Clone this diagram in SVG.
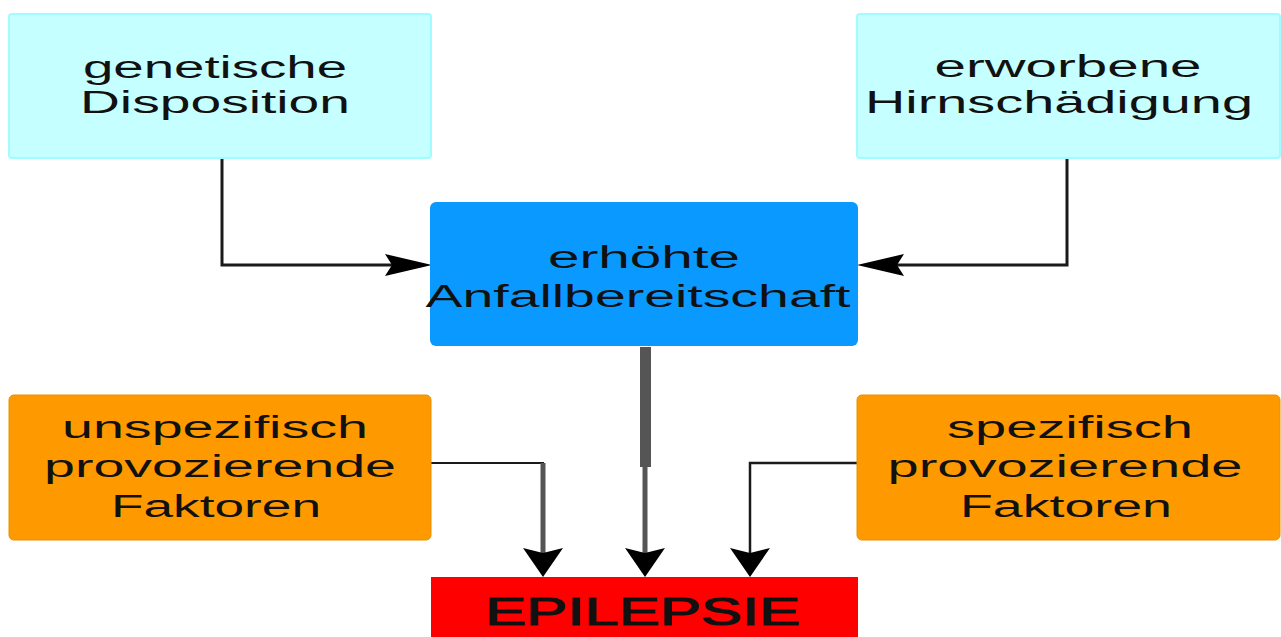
<svg xmlns="http://www.w3.org/2000/svg" width="1281" height="637" viewBox="0 0 1281 637">
<style>
.t{font-family:"Liberation Sans",Arial,sans-serif;font-size:31px;fill:#111;text-anchor:middle}
.cyan{fill:#c6ffff;stroke:#9ffcff;stroke-width:2}
.org{fill:#ff9900;stroke:#e89000;stroke-width:1}
.ln{fill:none;stroke:#1a1a1a;stroke-width:3}
.lg{fill:none;stroke:#555;stroke-width:5}
.ah{fill:#000}
</style>
<rect width="1281" height="637" fill="#fff"/>
<g id="connectors">
<path class="ln" d="M222,158 V265 H392"/>
<path class="ah" d="M432,265 L385,254 L392,265 L385,276 Z"/>
<path class="ln" d="M1067,158 V265 H896"/>
<path class="ah" d="M857,265 L904,254 L897,265 L904,276 Z"/>
<rect x="640" y="347" width="11" height="120" fill="#555"/>
<path class="lg" d="M645,465 V553"/>
<path class="ah" d="M645,577 L625,548 L645,553 L665,548 Z"/>
<path class="ln" d="M431,463 H543 V553" style="stroke-width:2"/>
<path class="lg" d="M543,463 V553"/>
<path class="ah" d="M543,577 L523,548 L543,553 L563,548 Z"/>
<path class="ln" d="M857,463 H750 V553" style="stroke-width:2.5"/>
<path class="ah" d="M750,577 L730,548 L750,553 L770,548 Z"/>
</g>
<g id="n-genetisch">
<rect class="cyan" x="9" y="14" width="422" height="144" rx="3"/>
<text class="t"><tspan x="215" y="78" textLength="264" lengthAdjust="spacingAndGlyphs">genetische</tspan><tspan x="215" y="113" textLength="270" lengthAdjust="spacingAndGlyphs">Disposition</tspan></text>
</g>
<g id="n-erworben">
<rect class="cyan" x="857" y="14" width="423" height="144" rx="3"/>
<text class="t"><tspan x="1068" y="77" textLength="267" lengthAdjust="spacingAndGlyphs">erworbene</tspan><tspan x="1059" y="113" textLength="388" lengthAdjust="spacingAndGlyphs">Hirnschädigung</tspan></text>
</g>
<g id="n-anfall">
<rect x="430" y="202" width="428" height="144" rx="6" fill="#0a99ff"/>
<text class="t"><tspan x="644" y="268" textLength="192" lengthAdjust="spacingAndGlyphs">erhöhte</tspan><tspan x="638" y="307" textLength="425" lengthAdjust="spacingAndGlyphs">Anfallbereitschaft</tspan></text>
</g>
<g id="n-unspez">
<rect class="org" x="9" y="395" width="422" height="145" rx="5"/>
<text class="t"><tspan x="215" y="438" textLength="306" lengthAdjust="spacingAndGlyphs">unspezifisch</tspan><tspan x="220" y="477" textLength="352" lengthAdjust="spacingAndGlyphs">provozierende</tspan><tspan x="216" y="517" textLength="210" lengthAdjust="spacingAndGlyphs">Faktoren</tspan></text>
</g>
<g id="n-spez">
<rect class="org" x="857" y="395" width="423" height="145" rx="5"/>
<text class="t"><tspan x="1070" y="438" textLength="246" lengthAdjust="spacingAndGlyphs">spezifisch</tspan><tspan x="1065" y="477" textLength="355" lengthAdjust="spacingAndGlyphs">provozierende</tspan><tspan x="1066" y="517" textLength="212" lengthAdjust="spacingAndGlyphs">Faktoren</tspan></text>
</g>
<g id="n-epilepsie">
<rect x="431" y="577" width="427" height="62" fill="#ff0000"/>
<text class="t" style="font-size:39px;stroke:#111;stroke-width:1.2" x="643" y="625" textLength="315" lengthAdjust="spacingAndGlyphs">EPILEPSIE</text>
</g>
</svg>
